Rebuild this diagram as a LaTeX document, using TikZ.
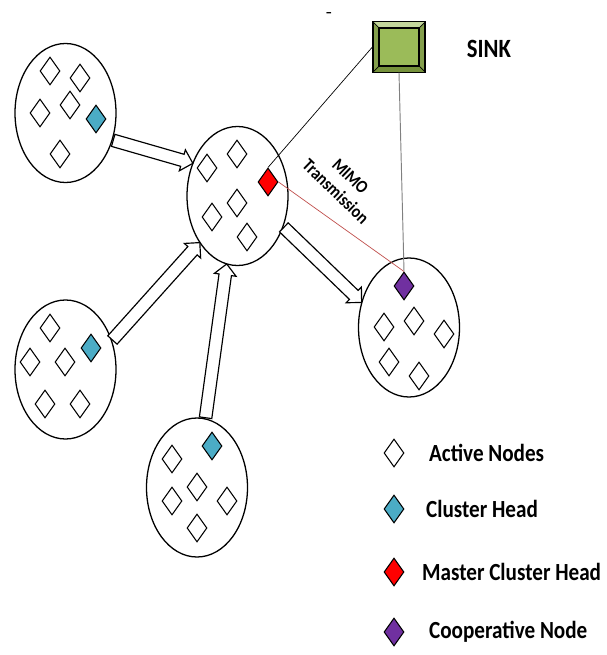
\documentclass[tikz,border=0pt]{standalone}
\usepackage{fontspec}
\setmainfont{Carlito}[FakeStretch=0.86]
\usepackage{tikz}
\usetikzlibrary{shapes.geometric,shapes.arrows,calc}

\definecolor{headblue}{HTML}{4BACC6}
\definecolor{masterred}{HTML}{FF0000}
\definecolor{coopurple}{HTML}{7030A0}
\definecolor{sinkgreen}{HTML}{9BBB59}
\definecolor{sinklight}{HTML}{C3D69B}
\definecolor{sinkdark}{HTML}{76923C}
\definecolor{linkred}{HTML}{C0504D}

\newcommand{\blockarrow}[2]{%
  \path let \p1=($(#2)-(#1)$), \n1={atan2(\y1,\x1)}, \n2={veclen(\x1,\y1)} in
    node[flow, minimum height=\n2, rotate=\n1, anchor=tail] at (#1) {};}

\begin{document}
\begin{tikzpicture}[x=0.03cm, y=-0.03cm,
    act/.style={diamond, draw, line width=0.9pt, fill=white, minimum width=0.6cm, minimum height=0.84cm, inner sep=0pt},
    head/.style={act, fill=headblue},
    master/.style={act, fill=masterred},
    coop/.style={act, fill=coopurple},
    cluster/.style={ellipse, draw, line width=1.1pt, minimum width=3.03cm, minimum height=4.17cm, inner sep=0pt},
    flow/.style={single arrow, draw, line width=1pt, fill=white, inner xsep=0pt, inner ysep=0.17cm, single arrow head extend=0.14cm},
    legtext/.style={font=\bfseries\fontsize{21}{25}\selectfont, anchor=west}]
    \useasboundingbox (0,0) rectangle (606,655);

    % clusters
    \node[cluster] (c1) at (65.5,113) {};
    \node[cluster] (c2) at (237.5,196) {};
    \node[cluster] (c3) at (409,327.5) {};
    \node[cluster] (c4) at (65.5,369.5) {};
    \node[cluster] (c5) at (197,487.5) {};

    % flows towards the master cluster
    \blockarrow{c1.-30}{c2.144}
    \blockarrow{c4.32}{c2.231}
    \blockarrow{c5.83.5}{c2.261}
    \blockarrow{c2.-34}{c3.152}

    % sensor nodes
    \foreach \x/\y [count=\i] in {50/71, 80/78, 40/113, 70/105, 60/154}
        \node[act] (c1n\i) at (\x,\y) {};
    \foreach \x/\y [count=\i] in {207/168, 237/154, 212/217, 237/203, 247/237}
        \node[act] (c2n\i) at (\x,\y) {};
    \foreach \x/\y [count=\i] in {384/327, 414/321, 444/334, 389/362, 419/376}
        \node[act] (c3n\i) at (\x,\y) {};
    \foreach \x/\y [count=\i] in {50/328, 30/362, 65/362, 45/404, 80/404}
        \node[act] (c4n\i) at (\x,\y) {};
    \foreach \x/\y [count=\i] in {172/459, 197/487, 172/501, 227/501, 197/528}
        \node[act] (c5n\i) at (\x,\y) {};

    \node[head] (ch1) at (96,119) {};
    \node[head] (ch4) at (91,348) {};
    \node[head] (ch5) at (212,446) {};
    \node[master] (mch) at (268,182) {};
    \node[coop] (cn) at (404,286) {};

    % sink
    \node[draw, line width=1pt, fill=sinkgreen!85!black, minimum width=1.56cm, minimum height=1.5cm] (sink) at (399,47) {};
    \node[draw, line width=1pt, fill=sinkgreen, minimum width=1.2cm, minimum height=1.14cm] (sinkin) at (sink) {};
    \fill[sinklight] (sink.north west) -- (sink.north east) -- (sinkin.north east) -- (sinkin.north west) -- cycle;
    \fill[sinkdark] (sink.south west) -- (sink.south east) -- (sinkin.south east) -- (sinkin.south west) -- cycle;
    \draw[line width=1pt] (sink.north west) rectangle (sink.south east);
    \draw[line width=1pt] (sinkin.north west) rectangle (sinkin.south east);
    \draw[line width=0.6pt] (sink.north west) -- (sinkin.north west);
    \draw[line width=0.6pt] (sink.north east) -- (sinkin.north east);
    \draw[line width=0.6pt] (sink.south west) -- (sinkin.south west);
    \draw[line width=0.6pt] (sink.south east) -- (sinkin.south east);
    \node[font=\bfseries\fontsize{22.5}{26}\selectfont] (sinklabel) at (489,49) {SINK};
    \node[font=\bfseries\fontsize{13}{14}\selectfont] (dash) at (329,15) {--};

    % links
    \draw[line width=0.6pt] (sink.west) -- (mch.north);
    \draw[line width=0.8pt, gray] (sink.south) -- (cn.north);
    \draw[line width=0.6pt, linkred] (mch.east) -- (cn.north);
    \node[font=\bfseries\fontsize{15.5}{18}\selectfont, align=center, rotate=-44] (mimo) at (343,184) {MIMO\\Transmission};

    % legend
    \node[act] (lg1) at (394,453) {};
    \node[head] (lg2) at (394,509) {};
    \node[master] (lg3) at (394,572) {};
    \node[coop] (lg4) at (394,632) {};
    \node[legtext] (lt1) at (425,453) {Active Nodes};
    \node[legtext] (lt2) at (422,509) {Cluster Head};
    \node[legtext] (lt3) at (418,572) {Master Cluster Head};
    \node[legtext] (lt4) at (425,632) {Cooperative Node};
\end{tikzpicture}
\end{document}
